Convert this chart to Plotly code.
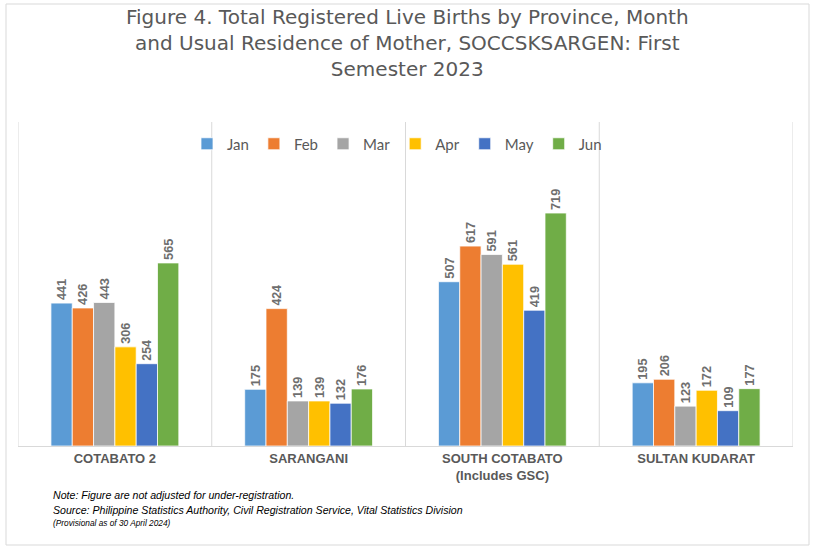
import plotly.graph_objects as go

provinces = ["COTABATO 2", "SARANGANI", "SOUTH COTABATO<br>(Includes GSC)", "SULTAN KUDARAT"]
months = ["Jan", "Feb", "Mar", "Apr", "May", "Jun"]
jan = [441, 175, 507, 195]
feb = [426, 424, 617, 206]
mar = [443, 139, 591, 123]
apr = [306, 139, 561, 172]
may = [254, 132, 419, 109]
jun = [565, 176, 719, 177]
series = [jan, feb, mar, apr, may, jun]
colors = ["#5B9BD5", "#ED7D31", "#A5A5A5", "#FFC000", "#4472C4", "#70AD47"]

title_text = ("Figure 4. Total Registered Live Births by Province, Month<br>"
              "and Usual Residence of Mother, SOCCSKSARGEN: First<br>"
              "Semester 2023")
notes = [
    ("Note: Figure are not adjusted for under-registration.", 10.6),
    ("Source: Philippine Statistics Authority, Civil Registration Service, Vital Statistics Division", 10.6),
    ("(Provisional as of 30 April 2024)", 8.3),
]

x_idx = list(range(len(provinces)))

fig = go.Figure()
for name, vals, col in zip(months, series, colors):
    fig.add_trace(go.Bar(
        name=name, x=x_idx, y=vals,
        marker=dict(color=col, line=dict(color="white", width=0.75)),
        text=[str(v) for v in vals], textposition="outside", textangle=-90,
        textfont=dict(family="Liberation Sans", size=13, color="#6e6e6e", weight="bold"),
        cliponaxis=False,
    ))

W, H = 816, 551
ml, mr, mt, mb = 18, 23, 122, 105
pw, ph = W - ml - mr, H - mt - mb

def px_to_paper_x(px):
    return (px - ml) / pw

def px_to_paper_y(py):
    return (H - mb - py) / ph

shapes = []
for b in [-0.5, 0.5, 1.5, 2.5, 3.5]:
    shapes.append(dict(type="line", xref="x", yref="paper", x0=b, x1=b, y0=0, y1=1,
                       line=dict(color="#d9d9d9", width=1)))
shapes.append(dict(type="rect", xref="paper", yref="paper",
                   x0=px_to_paper_x(6), x1=px_to_paper_x(809),
                   y0=px_to_paper_y(545), y1=px_to_paper_y(4),
                   line=dict(color="#d9d9d9", width=1), fillcolor="rgba(0,0,0,0)"))

annotations = [dict(text=title_text, xref="paper", yref="paper",
                    x=px_to_paper_x(408), y=px_to_paper_y(3), xanchor="center", yanchor="top",
                    showarrow=False, align="center",
                    font=dict(family="DejaVu Sans", size=20, color="#595959"))]
ys = [495, 510, 523]
for (txt, sz), yy in zip(notes, ys):
    annotations.append(dict(text="<i>" + txt + "</i>", xref="paper", yref="paper",
                            x=px_to_paper_x(51), y=px_to_paper_y(yy), xanchor="left", yanchor="middle",
                            showarrow=False, font=dict(family="Liberation Sans", size=sz, color="#000000")))

fig.update_layout(
    width=W, height=H,
    margin=dict(l=ml, r=mr, t=mt, b=mb),
    paper_bgcolor="white", plot_bgcolor="white",
    barmode="group", bargap=0.34, bargroupgap=0,
    legend=dict(orientation="h", x=px_to_paper_x(397), xanchor="center",
                y=px_to_paper_y(144), yanchor="middle",
                font=dict(family="Lato", size=15, color="#595959"),
                itemwidth=30, bgcolor="rgba(0,0,0,0)"),
    xaxis=dict(tickvals=x_idx, ticktext=provinces, range=[-0.5, 3.5],
               showline=True, linecolor="#d9d9d9", linewidth=1, ticks="",
               showgrid=False, zeroline=False,
               tickfont=dict(family="Liberation Sans", size=13, color="#595959", weight="bold")),
    yaxis=dict(range=[0, 1000], visible=False, showgrid=False, zeroline=False),
    shapes=shapes, annotations=annotations,
)

fig.write_html("out.html")
